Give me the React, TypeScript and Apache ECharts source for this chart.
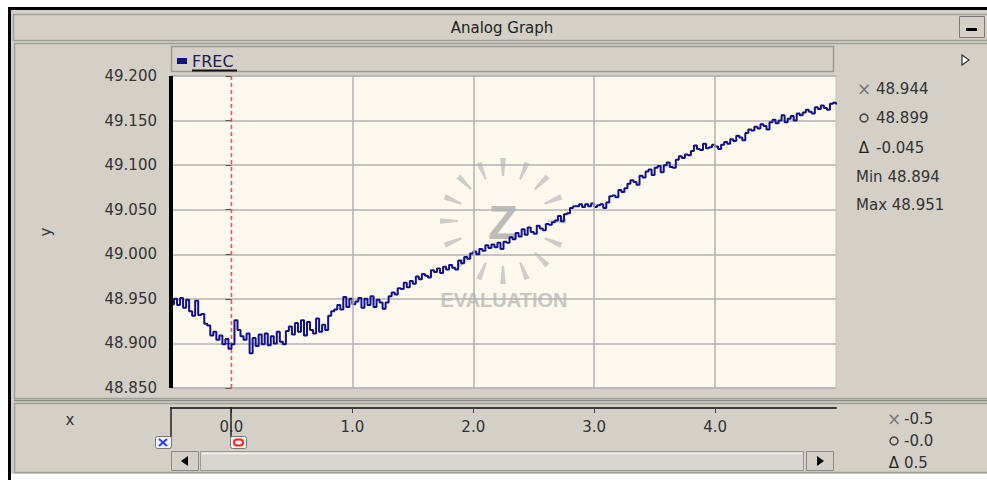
import React, { useEffect, useRef } from "react";
import * as echarts from "echarts";

// Sampled frequency trace (FREC), one sample every 0.025 s starting at -0.5 s
const X_START = -0.5;
const X_STEP = 0.025;
const frecValues: number[] = [
  48.944, 48.950, 48.943, 48.951, 48.940, 48.949, 48.936, 48.931, 48.948, 48.932,
  48.933, 48.922, 48.920, 48.909, 48.913, 48.904, 48.909, 48.899, 48.905, 48.894,
  48.899, 48.926, 48.915, 48.908, 48.904, 48.911, 48.889, 48.906, 48.897, 48.910,
  48.899, 48.911, 48.898, 48.908, 48.900, 48.913, 48.902, 48.899, 48.914, 48.919,
  48.910, 48.923, 48.913, 48.926, 48.909, 48.924, 48.915, 48.911, 48.928, 48.913,
  48.921, 48.915, 48.931, 48.936, 48.938, 48.943, 48.938, 48.952, 48.941, 48.950,
  48.944, 48.947, 48.951, 48.940, 48.950, 48.943, 48.953, 48.941, 48.949, 48.946,
  48.939, 48.946, 48.953, 48.957, 48.955, 48.962, 48.961, 48.968, 48.963, 48.970,
  48.967, 48.975, 48.972, 48.978, 48.976, 48.974, 48.982, 48.980, 48.984, 48.979,
  48.986, 48.983, 48.988, 48.985, 48.983, 48.993, 48.990, 48.997, 48.995, 49.001,
  49.003, 49.000, 49.006, 49.004, 49.010, 49.007, 49.011, 49.008, 49.013, 49.006,
  49.014, 49.013, 49.019, 49.017, 49.024, 49.020, 49.028, 49.022, 49.030, 49.025,
  49.023, 49.032, 49.029, 49.027, 49.034, 49.033, 49.036, 49.038, 49.043, 49.037,
  49.045, 49.046, 49.052, 49.054, 49.054, 49.056, 49.053, 49.056, 49.054, 49.057,
  49.053, 49.055, 49.056, 49.052, 49.058, 49.065, 49.066, 49.064, 49.072, 49.070,
  49.074, 49.079, 49.083, 49.081, 49.078, 49.088, 49.086, 49.093, 49.095, 49.089,
  49.097, 49.099, 49.092, 49.100, 49.103, 49.098, 49.097, 49.106, 49.110, 49.108,
  49.112, 49.111, 49.116, 49.122, 49.118, 49.117, 49.124, 49.119, 49.120, 49.123,
  49.121, 49.118, 49.123, 49.126, 49.124, 49.129, 49.127, 49.133, 49.131, 49.128,
  49.136, 49.140, 49.139, 49.143, 49.141, 49.146, 49.144, 49.140, 49.148, 49.151,
  49.147, 49.150, 49.156, 49.148, 49.152, 49.155, 49.150, 49.158, 49.156, 49.159,
  49.162, 49.160, 49.158, 49.165, 49.163, 49.167, 49.164, 49.162, 49.169, 49.170,
  49.168,
];

// Axes
const X_MIN = -0.5;
const X_MAX = 5.0;
const X_TICKS = [0, 1, 2, 3, 4];
const X_GRID = [1, 2, 3, 4];
const Y_MIN = 48.85;
const Y_MAX = 49.2;
const Y_STEP = 0.05;

// Cursors
const CURSOR_X = -0.5;
const CURSOR_O = 0.0;

const FONT = '"DejaVu Sans", Verdana, sans-serif';
const PANEL = "#d4d0c8";
const EDGE = "#a09e98";
const TEXT = "#333333";

const GRID = { left: 171, top: 76, width: 665, height: 312 };

const samples = frecValues.map((v, i) => [+(X_START + i * X_STEP).toFixed(3), v]);

function valueAt(x: number): number {
  const i = Math.round((x - X_START) / X_STEP);
  return frecValues[Math.max(0, Math.min(frecValues.length - 1, i))];
}

export default function App() {
  const ref = useRef<HTMLDivElement>(null);

  useEffect(() => {
    const el = ref.current!;
    const chart = echarts.init(el, undefined, { renderer: "svg" });

    chart.setOption({
      animation: false,
      textStyle: { fontFamily: FONT },
      legend: {
        data: ["FREC"],
        left: 172,
        top: 48,
        icon: "rect",
        itemWidth: 10,
        itemHeight: 6,
        selectedMode: false,
        textStyle: { fontSize: 16, color: "#1c1c50", fontFamily: FONT },
      },
      grid: { ...GRID, show: false },
      xAxis: {
        type: "value",
        min: X_MIN,
        max: X_MAX,
        offset: 20,
        axisLine: { show: true, lineStyle: { color: "#3a3a3a", width: 2 } },
        axisTick: { show: true, customValues: X_TICKS, length: 5, lineStyle: { color: "#444" } },
        axisLabel: {
          customValues: X_TICKS,
          formatter: (v: number) => v.toFixed(1),
          margin: 11,
          fontSize: 15,
          color: TEXT,
          fontFamily: FONT,
        },
        splitLine: { show: false },
      },
      yAxis: {
        type: "value",
        min: Y_MIN,
        max: Y_MAX,
        interval: Y_STEP,
        name: "y",
        nameLocation: "middle",
        nameRotate: 90,
        nameGap: 118,
        nameTextStyle: { fontSize: 15, color: TEXT, fontFamily: FONT },
        axisLine: { show: false },
        axisTick: { show: true, length: 6, lineStyle: { color: "#555" } },
        axisLabel: {
          formatter: (v: number) => v.toFixed(3),
          margin: 14,
          fontSize: 15,
          color: TEXT,
          fontFamily: FONT,
        },
        splitLine: { show: true, lineStyle: { color: "#b2b2b2", width: 1.5 } },
      },
      series: [
        {
          name: "grid",
          type: "line",
          z: 1,
          data: [],
          silent: true,
          markLine: {
            silent: true,
            symbol: "none",
            animation: false,
            label: { show: false },
            lineStyle: { color: "#b2b2b2", width: 1.5, type: "solid" },
            data: X_GRID.map((v) => ({ xAxis: v })),
          },
        },
        {
          name: "FREC",
          type: "line",
          z: 3,
          step: "end",
          clip: false,
          showSymbol: false,
          data: samples,
          color: "#10108a",
          lineStyle: { color: "#10108a", width: 2 },
        },
      ],
    });

    const px = (v: number) => chart.convertToPixel({ xAxisIndex: 0 }, v) as number;
    const xPix = Math.round(px(CURSOR_X));
    const oPix = Math.round(px(CURSOR_O));
    const yTop = GRID.top;
    const yBottom = GRID.top + GRID.height;

    const vX = valueAt(CURSOR_X);
    const vO = valueAt(CURSOR_O);
    const i0 = Math.round((CURSOR_X - X_START) / X_STEP);
    const i1 = Math.round((CURSOR_O - X_START) / X_STEP);
    const between = frecValues.slice(i0, i1 + 1);
    const vMin = Math.min(...between);
    const vMax = Math.max(...between);

    // Watermark rays
    const cx = 503;
    const cy = 221;
    const rays: any[] = [];
    for (let k = 0; k < 16; k++) {
      const a = (k * 22.5 * Math.PI) / 180;
      const ux = Math.cos(a);
      const uy = Math.sin(a);
      const nx = -uy;
      const ny = ux;
      const r0 = 45;
      const r1 = 63;
      const w0 = 1;
      const w1 = 2.8;
      rays.push({
        type: "polygon",
        z: -1,
        silent: true,
        shape: {
          points: [
            [cx + ux * r0 + nx * w0, cy + uy * r0 + ny * w0],
            [cx + ux * r1 + nx * w1, cy + uy * r1 + ny * w1],
            [cx + ux * r1 - nx * w1, cy + uy * r1 - ny * w1],
            [cx + ux * r0 - nx * w0, cy + uy * r0 - ny * w0],
          ],
        },
        style: { fill: "#cfcdc8" },
      });
    }

    const statRows = [
      { y: 89, sym: "x", text: vX.toFixed(3) },
      { y: 118, sym: "o", text: vO.toFixed(3) },
      { y: 148, sym: "d", text: (vO - vX).toFixed(3) },
    ];
    const axisRows = [
      { y: 419, sym: "x", text: CURSOR_X.toFixed(1) },
      { y: 441, sym: "o", text: "-" + Math.abs(CURSOR_O).toFixed(1) },
      { y: 463, sym: "d", text: (CURSOR_O - CURSOR_X).toFixed(1) },
    ];

    const symbol = (kind: string, x: number, y: number): any => {
      if (kind === "x")
        return {
          type: "text",
          z: 10,
          style: { x, y, text: "×", font: `17px ${FONT}`, fill: "#777", align: "center", verticalAlign: "middle" },
        };
      if (kind === "o")
        return {
          type: "circle",
          z: 10,
          shape: { cx: x, cy: y, r: 4 },
          style: { fill: "none", stroke: "#444", lineWidth: 1.5 },
        };
      return {
        type: "text",
        z: 10,
        style: { x, y, text: "Δ", font: `15px ${FONT}`, fill: "#222", align: "center", verticalAlign: "middle" },
      };
    };

    const graphics: any[] = [
      // window body and frame
      { type: "rect", z: -5, shape: { x: 11, y: 10, width: 980, height: 464 }, style: { fill: PANEL } },
      { type: "line", z: -4, shape: { x1: 8, y1: 8.5, x2: 990, y2: 8.5 }, style: { stroke: "#000", lineWidth: 3 } },
      { type: "line", z: -4, shape: { x1: 9.5, y1: 7, x2: 9.5, y2: 480 }, style: { stroke: "#000", lineWidth: 3 } },
      // title bar
      { type: "rect", z: -4, shape: { x: 13.5, y: 14.5, width: 975, height: 26 }, style: { fill: PANEL, stroke: EDGE, lineWidth: 1.5 } },
      {
        type: "text",
        z: 5,
        style: { x: 502, y: 28, text: "Analog Graph", font: `15px ${FONT}`, fill: "#222", align: "center", verticalAlign: "middle" },
      },
      { type: "rect", z: -3, shape: { x: 959.5, y: 16.5, width: 25, height: 21 }, style: { fill: PANEL, stroke: "#7a7a7a", lineWidth: 1 } },
      { type: "rect", z: -2, shape: { x: 966, y: 28, width: 11, height: 3 }, style: { fill: "#000" } },
      // main panel and legend strip
      { type: "rect", z: -4, shape: { x: 14.5, y: 43.5, width: 975, height: 355 }, style: { fill: "none", stroke: EDGE, lineWidth: 1.5 } },
      { type: "rect", z: -3, shape: { x: 171.5, y: 46.5, width: 662, height: 25 }, style: { fill: PANEL, stroke: "#9c9a94", lineWidth: 1.5 } },
      { type: "line", z: 5, shape: { x1: 192, y1: 70.5, x2: 237, y2: 70.5 }, style: { stroke: "#111", lineWidth: 2 } },
      { type: "polygon", z: 5, shape: { points: [[962, 55], [962, 65], [969, 60]] }, style: { fill: "#fff", stroke: "#333", lineWidth: 1.2 } },
      // plot background
      {
        type: "rect",
        z: -1,
        shape: { x: GRID.left, y: GRID.top, width: GRID.width, height: GRID.height },
        style: { fill: "#fdf9ee", stroke: "#c6c4be", lineWidth: 1 },
      },
      // watermark
      ...rays,
      {
        type: "text",
        z: -1,
        silent: true,
        style: { x: cx, y: cy + 1, text: "Z", font: `bold 48px "Liberation Sans", Arial, sans-serif`, fill: "#bdbcb8", align: "center", verticalAlign: "middle" },
      },
      {
        type: "text",
        z: -1,
        silent: true,
        style: { x: 504, y: 300, text: "EVALUATION", font: `bold 20px "Liberation Sans", Arial, sans-serif`, fill: "#c9c7c2", align: "center", verticalAlign: "middle" },
      },
      // cursor lines in the plot
      {
        type: "line",
        z: 2,
        silent: true,
        shape: { x1: oPix + 0.5, y1: yTop, x2: oPix + 0.5, y2: yBottom },
        style: { stroke: "#ff4a4a", lineWidth: 1.5, lineDash: [4, 3] },
      },
      {
        type: "line",
        z: 4,
        silent: true,
        shape: { x1: xPix, y1: yTop, x2: xPix, y2: yBottom },
        style: { stroke: "#000", lineWidth: 4 },
      },
      // cursor readout (right)
      ...statRows.flatMap((r) => [
        symbol(r.sym, 864, r.y),
        {
          type: "text",
          z: 10,
          style: { x: 876, y: r.y, text: r.text, font: `15px ${FONT}`, fill: TEXT, align: "left", verticalAlign: "middle" },
        },
      ]),
      {
        type: "text",
        z: 10,
        style: { x: 856, y: 177, text: "Min " + vMin.toFixed(3), font: `15px ${FONT}`, fill: TEXT, align: "left", verticalAlign: "middle" },
      },
      {
        type: "text",
        z: 10,
        style: { x: 856, y: 205, text: "Max " + vMax.toFixed(3), font: `15px ${FONT}`, fill: TEXT, align: "left", verticalAlign: "middle" },
      },
      // bottom panel
      { type: "line", z: -3, shape: { x1: 14, y1: 400.5, x2: 990, y2: 400.5 }, style: { stroke: "#8c8a84", lineWidth: 1.5 } },
      { type: "rect", z: -3, shape: { x: 14.5, y: 403.5, width: 975, height: 69 }, style: { fill: "none", stroke: EDGE, lineWidth: 1.5 } },
      {
        type: "text",
        z: 5,
        style: { x: 70, y: 420, text: "x", font: `15px ${FONT}`, fill: TEXT, align: "center", verticalAlign: "middle" },
      },
      ...axisRows.flatMap((r) => [
        symbol(r.sym, 894, r.y),
        {
          type: "text",
          z: 10,
          style: { x: 904, y: r.y, text: r.text, font: `15px ${FONT}`, fill: TEXT, align: "left", verticalAlign: "middle" },
        },
      ]),
      // scroll bar
      { type: "rect", z: 4, shape: { x: 171.5, y: 451.5, width: 27, height: 19 }, style: { fill: PANEL, stroke: "#8a8a8a", lineWidth: 1 } },
      { type: "polygon", z: 5, shape: { points: [[181, 461], [188, 456], [188, 466]] }, style: { fill: "#000" } },
      { type: "rect", z: 4, shape: { x: 200.5, y: 451.5, width: 603, height: 19 }, style: { fill: "#d8d5ce", stroke: "#9a9892", lineWidth: 1 } },
      { type: "line", z: 5, shape: { x1: 202, y1: 453.5, x2: 802, y2: 453.5 }, style: { stroke: "#f4f2ee", lineWidth: 1.5 } },
      { type: "rect", z: 4, shape: { x: 806.5, y: 451.5, width: 27, height: 19 }, style: { fill: PANEL, stroke: "#8a8a8a", lineWidth: 1 } },
      { type: "polygon", z: 5, shape: { points: [[824, 461], [817, 456], [817, 466]] }, style: { fill: "#000" } },
      // cursor handles
      { type: "line", z: 8, shape: { x1: xPix, y1: 407, x2: xPix, y2: 437 }, style: { stroke: "#222", lineWidth: 1.5 } },
      { type: "rect", z: 8, shape: { x: xPix - 15.5, y: 436.5, width: 16, height: 12, r: 2 }, style: { fill: "#f4f4f4", stroke: "#777", lineWidth: 1 } },
      { type: "line", z: 9, shape: { x1: xPix - 12, y1: 439, x2: xPix - 4, y2: 446 }, style: { stroke: "#2a3cff", lineWidth: 2 } },
      { type: "line", z: 9, shape: { x1: xPix - 4, y1: 439, x2: xPix - 12, y2: 446 }, style: { stroke: "#2a3cff", lineWidth: 2 } },
      { type: "line", z: 8, shape: { x1: oPix, y1: 407, x2: oPix, y2: 437 }, style: { stroke: "#222", lineWidth: 1.5 } },
      { type: "rect", z: 8, shape: { x: oPix - 0.5, y: 436.5, width: 16, height: 12, r: 2 }, style: { fill: "#f4f4f4", stroke: "#777", lineWidth: 1 } },
      { type: "rect", z: 9, shape: { x: oPix + 3, y: 439.5, width: 9, height: 6, r: 3 }, style: { fill: "none", stroke: "#ff2020", lineWidth: 2 } },
    ];

    chart.setOption({ graphic: graphics });

    return () => chart.dispose();
  }, []);

  return (
    <div
      ref={ref}
      style={{ position: "fixed", left: 0, top: 0, width: 987, height: 480, background: "#ffffff" }}
    />
  );
}
